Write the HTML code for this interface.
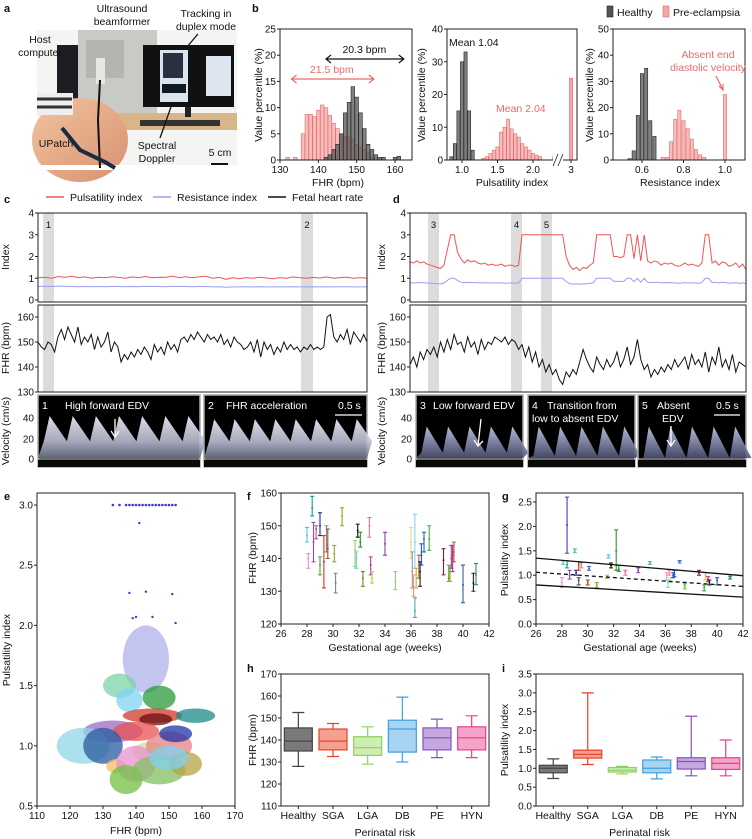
<!DOCTYPE html>
<html><head><meta charset="utf-8"><style>
html,body{margin:0;padding:0;background:#fff}
svg{display:block;font-family:"Liberation Sans",Arial,sans-serif}
</style></head><body>
<svg id="fig" width="752" height="839" viewBox="0 0 752 839" xmlns="http://www.w3.org/2000/svg">
<defs>
<linearGradient id="dopW" x1="0" y1="0" x2="0" y2="1"><stop offset="0" stop-color="#f4f4ff"/><stop offset="0.6" stop-color="#b8bcd0"/><stop offset="1" stop-color="#6a7088"/></linearGradient>
<linearGradient id="dopB" x1="0" y1="0" x2="0" y2="1"><stop offset="0" stop-color="#c8ccf0"/><stop offset="1" stop-color="#4a5070"/></linearGradient>
<linearGradient id="skin" x1="0" y1="0" x2="1" y2="1"><stop offset="0" stop-color="#f2c4a0"/><stop offset="1" stop-color="#d89070"/></linearGradient>
</defs>
<g>
<rect x="37" y="30" width="200" height="140" fill="#f4f4f2"/>
<rect x="57" y="45" width="24" height="80" fill="#1e1e22"/>
<rect x="78" y="30" width="79" height="93" fill="#c9c9c6"/>
<rect x="86" y="40" width="38" height="38" fill="#b4b4b0"/>
<rect x="96" y="58" width="9" height="26" fill="#e6e6e4"/>
<rect x="78" y="113" width="159" height="17" fill="#d9b68a"/>
<rect x="143" y="45" width="91" height="62" fill="#111"/>
<rect x="160" y="50" width="28" height="52" fill="#d8e4ee"/>
<rect x="163" y="53" width="20" height="25" fill="#2a3040"/>
<rect x="162" y="84" width="24" height="9" fill="#101820"/>
<rect x="206" y="56" width="25" height="40" fill="#dde6f0"/>
<rect x="185" y="107" width="6" height="10" fill="#222"/>
<rect x="140" y="120" width="80" height="6" fill="#333"/>
<ellipse cx="80" cy="140" rx="48" ry="42" fill="url(#skin)"/>
<rect x="37" y="93" width="36" height="22" fill="#eee"/>
<line x1="37" y1="99" x2="72" y2="99" stroke="#333" stroke-width="3"/>
<line x1="37" y1="107" x2="72" y2="107" stroke="#333" stroke-width="3"/>
<rect x="37" y="165" width="200" height="5" fill="#fff"/>
<path d="M100 80 L98 120 L100 168" stroke="#111" stroke-width="2" fill="none"/>
<path d="M62 128 L80 150 L105 162 L115 168" stroke="#1a2a40" stroke-width="4" fill="none"/>
</g>
</svg>
<script>
const NS='http://www.w3.org/2000/svg';
const svg=document.getElementById('fig');
function mk(tag,attrs,parent){const e=document.createElementNS(NS,tag);for(const k in attrs)e.setAttribute(k,attrs[k]);(parent||svg).appendChild(e);return e;}
function txt(s,x,y,opt,parent){const t=mk('text',Object.assign({x:x,y:y,'font-size':10,fill:'#111'},opt||{}),parent);t.textContent=s;return t;}
function lin(d0,d1,r0,r1){return v=>r0+(v-d0)*(r1-r0)/(d1-d0);}
function grp(name){const g=mk('g',{});return g;}
function frame(g,x0,y0,x1,y1){const r=mk('rect',{x:x0,y:y0,width:x1-x0,height:y1-y0,fill:'none',stroke:'#222','stroke-width':1},g);

}
function yAxis(g,sc,vals,labels,x){vals.forEach((v,i)=>{const y=sc(v);mk('line',{x1:x-3,x2:x,y1:y,y2:y,stroke:'#222'},g);const t=txt(labels[i],x-4,y+3.5,{'text-anchor':'end'},g);

});}
function xAxis(g,sc,vals,labels,y){vals.forEach((v,i)=>{const x=sc(v);mk('line',{x1:x,x2:x,y1:y,y2:y+3,stroke:'#222'},g);const t=txt(labels[i],x,y+13,{'text-anchor':'middle'},g);

});}
function title(g,s,x,y,rot,name){const t=txt(s,x,y,{'text-anchor':'middle','font-size':10.5,transform:rot?`rotate(-90 ${x} ${y})`:''},g);

return t;}
function letter(s,x,y){const t=txt(s,x,y,{'font-weight':'bold','font-size':11});

}

/* ---------- DATA ---------- */
const fhrBinsH=[142,143,144,145,146,147,148,149,150,151,152,153,154,155,156,157,160,161];
const fhrValsH=[0.5,1,2,3,5,9,11,14,12,9,6,3,2,1,0.5,0.5,0.5,0.7];
const fhrBinsP=[132,134,136,137,138,139,140,141,142,143,144,145,146,147,148,149,150,151,152,153,154];
const fhrValsP=[0.5,0.5,5,8.7,8.7,8.3,9.5,10.5,10,8.5,7,6,5,4.5,4.5,4,3,2.5,2,1.5,0.5];
const piBinsH=[0.85,0.9,0.95,1.0,1.05,1.1,1.15];
const piValsH=[1,5,15,30,33,15,3];
const piBinsP=[1.3,1.35,1.4,1.45,1.5,1.55,1.6,1.65,1.7,1.75,1.8,1.85,1.9,1.95,2.0,2.05,2.1,2.3];
const piValsP=[0.5,1,2,3,4,8.5,10,12.5,9.5,8,7,5,4,3,2,1.5,1,1];
const piAbsentVal=25;
const riBinsH=[0.54,0.56,0.58,0.60,0.62,0.64,0.66];
const riValsH=[0.5,3.5,17,33,35,15,9];
const riBinsP=[0.70,0.72,0.74,0.76,0.78,0.80,0.82,0.84,0.86,0.88,0.90,1.0];
const riValsP=[1,1,7,15.5,19,15,12,8,4,2,1,25];
const cPI=[1.02,1.05,1.0,1.08,1.04,1.1,1.03,1.06,1.0,1.05,1.02,1.07,1.04,1.0,1.06,1.03,1.08,1.02,1.05,1.04,1.1,1.03,1.07,1.02,1.06,1.1,1.0,1.04,0.95,1.02,0.98,1.03,1.0,1.05,1.01,0.98,1.03,1.0,1.06,1.02,1.0,1.04,1.01,1.06,1.0,1.03,1.05,1.0,1.03,1.0];
const cRI=[0.62,0.63,0.62,0.64,0.63,0.62,0.61,0.62,0.61,0.62,0.61,0.62,0.62,0.61,0.62,0.61,0.63,0.62,0.62,0.61,0.63,0.62,0.62,0.61,0.62,0.62,0.6,0.61,0.59,0.6,0.6,0.61,0.6,0.61,0.6,0.6,0.61,0.6,0.61,0.6,0.6,0.61,0.6,0.61,0.6,0.61,0.61,0.6,0.6,0.6];
const cFHR=[150,148,147,150,149,146,152,155,151,156,153,150,156,149,152,150,153,147,152,148,150,154,146,150,148,142,145,143,146,144,147,145,148,146,143,149,146,148,145,150,147,149,146,151,152,150,153,151,154,152,150,153,151,152,150,153,149,151,148,152,150,149,147,148,150,146,151,144,150,147,149,145,148,146,150,147,149,147,148,146,148,147,149,147,148,147,148,160,161,152,150,153,151,155,149,154,152,150,153,150];
const dPI=[1.75,1.7,1.8,1.7,1.75,1.65,1.6,1.55,1.5,1.45,1.6,2.3,3,3,2.2,1.9,1.7,1.85,1.75,1.8,1.7,1.65,1.7,1.6,1.65,1.6,1.6,1.65,1.55,1.6,1.6,1.55,1.6,3,3,3,3,3,3,3,3,3,3,3,3,3,2.0,1.6,1.4,1.5,1.35,1.5,1.45,1.6,1.7,3,3,3,3,3,2.0,2.0,1.95,2.0,3,3,1.9,3,1.8,3,1.8,1.7,1.8,1.75,1.6,1.7,1.65,1.7,1.6,1.55,1.6,1.7,1.6,1.65,1.6,1.55,1.7,3,3,1.7,1.8,1.6,1.75,1.7,1.55,1.6,1.7,1.5,1.65,1.4];
const dRI=[0.8,0.78,0.8,0.8,0.79,0.78,0.77,0.76,0.75,0.74,0.78,0.9,1,1,0.9,0.82,0.8,0.81,0.8,0.8,0.79,0.78,0.8,0.78,0.79,0.78,0.78,0.79,0.77,0.78,0.78,0.77,0.78,1,1,1,1,1,1,1,1,1,1,1,1,1,0.85,0.76,0.73,0.75,0.72,0.75,0.74,0.77,0.79,1,1,1,1,1,0.86,0.86,0.85,0.86,1,1,0.84,1,0.82,1,0.82,0.8,0.82,0.81,0.78,0.8,0.79,0.8,0.78,0.77,0.78,0.8,0.78,0.79,0.78,0.77,0.8,1,1,0.8,0.82,0.78,0.81,0.8,0.77,0.78,0.8,0.76,0.79,0.75];
const dFHR=[141,144,140,146,143,147,145,148,144,150,146,151,147,153,149,150,146,152,148,150,145,151,147,150,149,152,151,150,152,149,151,150,147,149,144,148,142,146,140,143,138,141,137,139,135,133,138,136,139,137,142,147,143,140,138,144,141,139,143,140,142,146,140,143,148,141,144,151,143,139,141,136,139,137,140,138,141,139,143,140,142,144,139,145,141,143,140,146,138,144,141,148,140,143,139,145,138,142,141,140];
const eFhr=[143,135,138,147,145,146,158,133,140,124,130,144,150,152,134,140,137,147,155,150];
const ePi=[1.72,1.5,1.38,1.4,1.25,1.22,1.25,1.12,1.12,1.0,1.0,0.95,1.0,1.1,0.83,0.85,0.72,0.8,0.85,0.9];
const eSdF=[7,5,4,5,9,5,6,9,7,8,6,5,7,5,3,6,5,8,5,6];
const eSdP=[0.28,0.1,0.1,0.1,0.06,0.05,0.06,0.09,0.08,0.15,0.15,0.08,0.12,0.07,0.06,0.15,0.12,0.12,0.1,0.1];
const eCol=['#3a3ad0','#7dd3a8','#7fd3f0','#2a9a3a','#d03a2b','#6b1010','#1a8a8a','#9b69c6','#e85050','#8fd6e6','#2a5aa0','#c8e890','#e88080','#2233aa','#f0c060','#e890d0','#70c040','#80c060','#b8a040','#80d0f0'];
const eTopFhr=[133,135,137,138,139,140,141,142,143,144,145,146,147,148,149,150,151,152];
const eOutFhr=[141,138,143,151,140,145,152,139];
const eOutPi=[2.85,2.27,2.28,2.26,2.07,2.07,2.02,2.06];
const fGa=[28.0,28.1,28.4,28.5,28.7,29.0,29.0,29.3,29.5,29.6,30.1,30.2,30.7,31.7,31.8,31.9,32.1,32.3,32.8,32.9,33.0,34.0,34.8,36.0,36.1,36.2,36.3,36.3,36.4,36.6,36.7,36.8,37.0,37.4,38.5,38.9,39.0,39.1,39.2,39.3,40.0,40.8,41.0];
const fMean=[147,140,155.5,145,149,150,138,139,144,143,141.5,132.5,153,142.5,140,148.5,145,134,150,138,134,144.5,133,145,136,131.5,145,124,135,138,136,141,146,146,139.5,134,136,140,141,142,132,132.5,135];
const fLo=[145,137,153,139,146,147,135,131,142,140,139,129.5,150,137.5,137,146.5,143.5,131.5,146.5,135,132.5,141,130.5,140,131,128.5,137,122,131,134,131.5,138,142,142.5,135,133,133,137,136,139,126.5,130,132];
const fHi=[149.5,141.5,159,151,150,154,140.5,147,150,149,144,135.5,155.5,145.5,142,150.5,148,136,152.5,140.5,136,148,136,149.5,142,135,153.5,128,137,141,139,144.5,148,150,143,138,138,144,144,145,138,135.5,138.5];
const fCol=['#5bc8d8','#e890d0','#1a9a8a','#8050c0','#d040a0','#2030a0','#50a040','#e03020','#888','#8a5a30','#a0a030','#7080b0','#a0a020','#90d070','#70d0e0','#111','#2a8a2a','#808020','#f07090','#a040a0','#e0c040','#8040b0','#90d070','#e0e080','#999','#f09080','#80d8f0','#40b0c0','#c0b040','#a07040','#222','#3050c0','#2060d0','#40b040','#802030','#50b030','#a0a020','#9040c0','#e02080','#a06030','#3060a0','#222','#309050'];
const gGa=[28.0,28.1,28.4,28.4,28.6,29.0,29.1,29.3,29.3,29.5,30.0,30.1,30.7,31.5,31.6,31.8,32.2,32.4,32.9,33.9,34.8,36.1,36.2,36.3,36.4,36.6,36.7,37.1,37.5,38.6,39.0,39.1,39.3,39.4,40.0,41.0];
const gMean=[0.85,1.27,2.03,1.22,1.0,1.5,1.05,0.9,1.22,1.2,0.85,1.14,0.8,0.97,1.38,1.2,1.5,1.12,1.07,1.1,1.25,1.0,0.85,1.05,0.9,1.0,1.02,1.28,0.77,1.05,0.75,1.0,0.92,0.85,0.9,0.95];
const gLo=[0.75,1.22,1.45,1.15,0.92,1.46,1.0,0.8,1.1,1.15,0.8,1.1,0.75,0.93,1.35,1.15,1.1,1.08,1.0,1.05,1.22,0.9,0.75,1.0,0.85,0.95,0.97,1.25,0.72,1.0,0.68,0.9,0.87,0.8,0.8,0.92];
const gHi=[0.95,1.3,2.6,1.3,1.1,1.54,1.1,0.95,1.28,1.25,0.9,1.18,0.85,1.0,1.42,1.25,1.93,1.2,1.1,1.15,1.28,1.05,0.9,1.1,0.95,1.05,1.1,1.3,0.82,1.1,0.8,1.05,0.97,0.9,0.95,0.98];
const gCol=['#e890d0','#5bc8d8','#3a3ad0','#1a9a8a','#8050c0','#50c890','#2030a0','#555','#e03020','#999','#8a5a30','#5060d0','#a0a030','#90d070','#70c0e0','#111','#2a9a2a','#2a8a2a','#f07090','#8040b0','#60c080','#e890d0','#80d8f0','#f09080','#e0e080','#3050c0','#2060d0','#3070d0','#60c040','#802030','#40b040','#e0c040','#e02080','#222','#3060a0','#309050'];
const gUpper=[1.35,0.99];const gMid=[1.06,0.77];const gLower=[0.8,0.55];
const cats=['Healthy','SGA','LGA','DB','PE','HYN'];
const boxCol=['#444','#e8402a','#8fd060','#3fa0e0','#8a50c0','#e8408a'];
const boxFill=['#7a7a7a','#f6a090','#cdeeb0','#a8d4f4','#c4a8e0','#f4a4c8'];
const hMin=[128,132.5,129,130,132,132];const hQ1=[135,135.5,133,134.5,135.5,135.5];const hMed=[139.5,139.5,136.5,145,141,141];const hQ3=[145.5,145,141.5,149,145.5,146];const hMax=[152.5,147.5,146,159.5,149.5,151];
const iMin=[0.73,1.1,0.85,0.72,0.8,0.8];const iQ1=[0.88,1.27,0.9,0.88,0.98,0.97];const iMed=[1.0,1.37,0.95,1.0,1.18,1.13];const iQ3=[1.08,1.48,1.02,1.22,1.28,1.28];const iMax=[1.25,3.0,1.05,1.3,2.38,1.75];

/* ---------- labels ---------- */
letter('a',4,12);letter('b',252,12);letter('c',4,203);letter('d',393,203);letter('e',4,500);letter('f',247,500);letter('g',502,500);letter('h',247,672);letter('i',502,672);
const ga=grp('panel-a-labels');
[['Host',40,43],['computer',40,56],['Ultrasound',122,12],['beamformer',122,25],['Tracking in',206,17],['duplex mode',206,30],['UPatch',56,147],['Spectral',157,149],['Doppler',157,162],['5 cm',220,156]].forEach(a=>{const t=txt(a[0],a[1],a[2],{'text-anchor':'middle','font-size':10.5},ga);

});
mk('line',{x1:211,x2:228,y1:164,y2:164,stroke:'#111','stroke-width':2},ga);
mk('path',{d:'M198 34 L186 48',stroke:'#111','stroke-width':1.3,fill:'none'},ga);
mk('path',{d:'M160 138 L172 104',stroke:'#111','stroke-width':1.3,fill:'none'},ga);

/* ---------- panel b ---------- */
function bars(g,sx,sy,bins,vals,w,fill,stroke,name){bins.forEach((b,i)=>{const x=sx(b);const r=mk('rect',{x:x-w/2,y:sy(vals[i]),width:w,height:sy(0)-sy(vals[i]),fill:fill,stroke:stroke,'stroke-width':0.6,'fill-opacity':0.75},g);

});}
const b1=grp('histogram-fhr');
const b1x=lin(130,160,280,395),b1y=lin(0,25,160,29);
bars(b1,b1x,b1y,fhrBinsP,fhrValsP,3.6,'#f5a6a6','#e06a6a','bar-pre-eclampsia');
bars(b1,b1x,b1y,fhrBinsH,fhrValsH,3.6,'#555','#222','bar-healthy');
frame(b1,280,29,412,160);
yAxis(b1,b1y,[0,5,10,15,20,25],['0','5','10','15','20','25'],280);
xAxis(b1,b1x,[130,140,150,160],['130','140','150','160'],160);
title(b1,'FHR (bpm)',338,186,false,'x-axis-title');
title(b1,'Value percentile (%)',262,95,true,'y-axis-title');
mk('path',{d:`M${b1x(142)} 59 L${b1x(162.3)} 59 M${b1x(142)+5} 55 L${b1x(142)} 59 L${b1x(142)+5} 63 M${b1x(162.3)-5} 55 L${b1x(162.3)} 59 L${b1x(162.3)-5} 63`,stroke:'#111','stroke-width':1.2,fill:'none'},b1);
txt('20.3 bpm',b1x(152),53,{'text-anchor':'middle','font-size':10.5},b1);
mk('path',{d:`M${b1x(133)} 79 L${b1x(154.5)} 79 M${b1x(133)+5} 75 L${b1x(133)} 79 L${b1x(133)+5} 83 M${b1x(154.5)-5} 75 L${b1x(154.5)} 79 L${b1x(154.5)-5} 83`,stroke:'#e86a6a','stroke-width':1.2,fill:'none'},b1);
txt('21.5 bpm',b1x(143.5),73,{'text-anchor':'middle','font-size':10.5,fill:'#e86a6a'},b1);

const b2=grp('histogram-pulsatility');
const b2x=lin(1,2,462,533),b2y=lin(0,40,160,29);
bars(b2,b2x,b2y,piBinsH,piValsH,3.2,'#555','#222','bar-healthy');
bars(b2,b2x,b2y,piBinsP,piValsP,3.2,'#f5a6a6','#e06a6a','bar-pre-eclampsia');
const ab=mk('rect',{x:569.5,y:b2y(piAbsentVal),width:3.2,height:b2y(0)-b2y(piAbsentVal),fill:'#f5a6a6',stroke:'#e06a6a','stroke-width':0.6},b2);


frame(b2,447,29,577,160);
yAxis(b2,b2y,[0,10,20,30,40],['0','10','20','30','40'],447);
xAxis(b2,b2x,[1,1.5,2],['1.0','1.5','2.0'],160);
mk('line',{x1:571,x2:571,y1:160,y2:163,stroke:'#222'},b2);txt('3',571,173,{'text-anchor':'middle'},b2);
mk('rect',{x:553,y:155,width:10,height:10,fill:'#fff'},b2);
mk('path',{d:'M553 166 L558 154 M558 166 L563 154',stroke:'#222','stroke-width':0.8},b2);
title(b2,'Pulsatility index',512,186,false,'x-axis-title');
title(b2,'Value percentile (%)',425,95,true,'y-axis-title');
txt('Mean 1.04',449,46,{'font-size':10.5},b2);
txt('Mean 2.04',496,112,{'font-size':10.5,fill:'#e86a6a'},b2);

const b3=grp('histogram-resistance');
const b3x=lin(0.6,1.0,642,725),b3y=lin(0,50,160,29);
bars(b3,b3x,b3y,riBinsH,riValsH,3.2,'#555','#222','bar-healthy');
bars(b3,b3x,b3y,riBinsP,riValsP,3.2,'#f5a6a6','#e06a6a','bar-pre-eclampsia');
frame(b3,613,29,745,160);
yAxis(b3,b3y,[0,10,20,30,40,50],['0','10','20','30','40','50'],613);
xAxis(b3,b3x,[0.6,0.8,1.0],['0.6','0.8','1.0'],160);
title(b3,'Resistance index',680,186,false,'x-axis-title');
title(b3,'Value percentile (%)',593,95,true,'y-axis-title');
txt('Absent end',708,58,{'text-anchor':'middle','font-size':10.5,fill:'#e86a6a'},b3);
txt('diastolic velocity',708,71,{'text-anchor':'middle','font-size':10.5,fill:'#e86a6a'},b3);
mk('path',{d:'M716 76 L723 90 M719 86 L723 90 L723 84',stroke:'#e86a6a','stroke-width':1.2,fill:'none'},b3);
const lg=grp('legend-b');
mk('rect',{x:607,y:6,width:6,height:11,fill:'#555',stroke:'#222','stroke-width':0.6},lg);
txt('Healthy',617,16,{'font-size':10.5},lg);
mk('rect',{x:663,y:6,width:6,height:11,fill:'#f5a6a6',stroke:'#e06a6a','stroke-width':0.6},lg);
txt('Pre-eclampsia',673,16,{'font-size':10.5},lg);

/* ---------- panels c / d ---------- */
function series(g,arr,x0,x1,sy,color,w,name){const n=arr.length;const pts=arr.map((v,i)=>(x0+i*(x1-x0)/(n-1)).toFixed(1)+','+sy(v).toFixed(1)).join(' ');const p=mk('polyline',{points:pts,fill:'none',stroke:color,'stroke-width':w},g);

}
function timePanel(name,x0,x1,bands,pi,ri,fhr,tickX){
 const g=grp(name);
 const iy=lin(0,4,300,213),fy=lin(130,160,392,317);
 bands.forEach(b=>{const r=mk('rect',{x:b[0],y:213,width:b[1]-b[0],height:179,fill:'#dcdcdc'},g);
 
 
 txt(b[2],(b[0]+b[1])/2,228,{'text-anchor':'middle','font-size':9.5},g);});
 mk('rect',{x:x0,y:302,width:x1-x0,height:3,fill:'#fff'},g);
 series(g,ri,x0,x1,iy,'#9d9df0',1,'resistance-index-line');
 series(g,pi,x0,x1,iy,'#ee5555',1,'pulsatility-index-line');
 series(g,fhr,x0,x1,fy,'#111',1,'fetal-heart-rate-line');
 frame(g,x0,213,x1,302);frame(g,x0,305,x1,392);
 yAxis(g,iy,[0,1,2,3,4],['0','1','2','3','4'],x0);
 yAxis(g,fy,[130,140,150,160],['130','140','150','160'],x0);
 title(g,'Index',tickX,257,true,'y-axis-title-index');
 title(g,'FHR (bpm)',tickX,348,true,'y-axis-title-fhr');
 title(g,'Velocity (cm/s)',tickX,431,true,'y-axis-title-velocity');
 return g;}
const gc=timePanel('panel-c-timeseries',38,367,[[43,54,'1'],[301,313,'2']],cPI,cRI,cFHR,9);
const gd=timePanel('panel-d-timeseries',410,746,[[428,439,'3'],[511,522,'4'],[541,552,'5']],dPI,dRI,dFHR,385);
const lc=grp('legend-c');
[['Pulsatility index','#ee5555',46],['Resistance index','#9d9df0',153],['Fetal heart rate','#111',268]].forEach(l=>{mk('line',{x1:l[2],x2:l[2]+18,y1:197,y2:197,stroke:l[1],'stroke-width':1.5},lc);const t=txt(l[0],l[2]+24,201,{'font-size':10.5},lc);

});

function doppler(name,x0,x1,peaks,diast,fill,labels,lines){
 const g=grp(name);
 mk('rect',{x:x0,y:395,width:x1-x0,height:72,fill:'#000',stroke:'#aaa','stroke-width':1.5},g);
 const base=458,vy=lin(0,40,458,416);
 const n=peaks.length;const step=(x1-x0)/n;
 let d='M'+x0+' '+base;
 for(let k=0;k<n;k++){const px=x0+step*(k+0.5);d+=` L${(px-step*0.25).toFixed(1)} ${vy(diast).toFixed(1)} L${px.toFixed(1)} ${vy(peaks[k]).toFixed(1)} L${(px+step*0.75).toFixed(1)} ${vy(diast).toFixed(1)}`;}
 d+=` L${x1} ${base} Z`;
 mk('path',{d:d,fill:fill,opacity:0.9},g);
 mk('line',{x1:x0,x2:x1,y1:base+1,y2:base+1,stroke:'#ddd','stroke-width':1},g);
 mk('rect',{x:x0,y:base+2,width:x1-x0,height:7,fill:'#0a0a0a'},g);
 labels.forEach(l=>{txt(l[0],l[1],l[2],{'font-size':10.5,fill:'#fff'},g);});
 (lines||[]).forEach(l=>mk('path',{d:l,stroke:'#fff','stroke-width':1.3,fill:'none'},g));
 return g;}
doppler('spectrogram-1',38,200,[40,40,40,40,40,40,40],16,'url(#dopW)',[['1',42,409],['High forward EDV',65,409]],['M115 419 L115 437 M111 431 L115 437 L119 431']);
doppler('spectrogram-2',204,367,[37,37,37,37,37,37,37,37],16,'url(#dopW)',[['2',208,409],['FHR acceleration',226,409],['0.5 s',338,409]],['M335 415 L362 415']);
doppler('spectrogram-3',416,523,[30,30,30,30,30],5,'url(#dopB)',[['3',420,409],['Low forward EDV',433,409]],['M481 419 L478 446 M474 440 L478 446 L483 441']);
doppler('spectrogram-4',528,635,[30,30,30,30,30],2,'url(#dopB)',[['4',532,409],['Transition from',547,409],['low to absent EDV',532,422]]);
doppler('spectrogram-5',638,746,[30,30,30,30,30],0,'url(#dopB)',[['5',642,409],['Absent',657,409],['EDV',662,422],['0.5 s',716,409]],['M671 426 L671 446 M667 440 L671 446 L675 440','M714 415 L740 415']);
[['40',418],['20',439],['0',459]].forEach(v=>{txt(v[0],34,v[1]+3.5,{'text-anchor':'end'});txt(v[0],412,v[1]+3.5,{'text-anchor':'end'});});

/* ---------- panel e ---------- */
const ge=grp('panel-e-scatter');
const ex=lin(110,170,37,235),ey=lin(0.5,3.0,806,505);
eFhr.forEach((f,i)=>{const c=mk('ellipse',{cx:ex(f),cy:ey(ePi[i]),rx:ex(f+eSdF[i])-ex(f),ry:ey(ePi[i])-ey(ePi[i]+eSdP[i]),fill:eCol[i],opacity:i===0?0.3:0.75},ge);

});
eTopFhr.forEach(f=>{const c=mk('circle',{cx:ex(f),cy:ey(3.0),r:1.3,fill:'#3a3ad0'},ge);

});
eOutFhr.forEach((f,i)=>{const c=mk('circle',{cx:ex(f),cy:ey(eOutPi[i]),r:1.2,fill:'#3a3ad0'},ge);

});
frame(ge,37,493,235,806);
yAxis(ge,ey,[0.5,1,1.5,2,2.5,3],['0.5','1.0','1.5','2.0','2.5','3.0'],37);
xAxis(ge,ex,[110,120,130,140,150,160,170],['110','120','130','140','150','160','170'],806);
title(ge,'FHR (bpm)',136,834,false,'x-axis-title');
title(ge,'Pulsatility index',10,650,true,'y-axis-title');

/* ---------- panels f / g ---------- */
function errPanel(name,sx,sy,gaArr,m,lo,hi,col){const g=grp(name);gaArr.forEach((a,i)=>{const x=sx(a);const p=mk('path',{d:`M${x} ${sy(lo[i])} L${x} ${sy(hi[i])} M${x-2} ${sy(lo[i])} L${x+2} ${sy(lo[i])} M${x-2} ${sy(hi[i])} L${x+2} ${sy(hi[i])}`,stroke:col[i],'stroke-width':1.1,fill:'none'},g);


mk('circle',{cx:x,cy:sy(m[i]),r:1,fill:col[i]},g);});return g;}
const fx=lin(26,42,281,489),fy=lin(120,160,624,493);
const gf=errPanel('panel-f-errorbars',fx,fy,fGa,fMean,fLo,fHi,fCol);
frame(gf,281,493,489,624);
yAxis(gf,fy,[120,130,140,150,160],['120','130','140','150','160'],281);
xAxis(gf,fx,[26,28,30,32,34,36,38,40,42],['26','28','30','32','34','36','38','40','42'],624);
title(gf,'Gestational age (weeks)',385,651,false,'x-axis-title');
title(gf,'FHR (bpm)',256,558,true,'y-axis-title');
const gx=lin(26,42,536,743),gy=lin(0,2.5,624,502);
const gg=errPanel('panel-g-errorbars',gx,gy,gGa,gMean,gLo,gHi,gCol);
[[gUpper,''],[gMid,'4,3'],[gLower,'']].forEach(l=>{const p=mk('line',{x1:gx(26),x2:gx(42),y1:gy(l[0][0]),y2:gy(l[0][1]),stroke:'#111','stroke-width':1.3,'stroke-dasharray':l[1]},gg);

});
frame(gg,536,493,743,624);
yAxis(gg,gy,[0,0.5,1,1.5,2,2.5],['0.0','0.5','1.0','1.5','2.0','2.5'],536);
xAxis(gg,gx,[26,28,30,32,34,36,38,40,42],['26','28','30','32','34','36','38','40','42'],624);
title(gg,'Gestational age (weeks)',640,651,false,'x-axis-title');
title(gg,'Pulsatility index',508,560,true,'y-axis-title');

/* ---------- panels h / i ---------- */
function boxPanel(name,x0,x1,sy,mn,q1,md,q3,mx){const g=grp(name);const step=(x1-x0)/cats.length;
cats.forEach((c,i)=>{const x=x0+step*(i+0.5);const w=14;
const b=mk('rect',{x:x-w,y:sy(q3[i]),width:2*w,height:sy(q1[i])-sy(q3[i]),fill:boxFill[i],stroke:boxCol[i],'stroke-width':1.2},g);


mk('path',{d:`M${x} ${sy(q3[i])} L${x} ${sy(mx[i])} M${x-6} ${sy(mx[i])} L${x+6} ${sy(mx[i])} M${x} ${sy(q1[i])} L${x} ${sy(mn[i])} M${x-6} ${sy(mn[i])} L${x+6} ${sy(mn[i])} M${x-w} ${sy(md[i])} L${x+w} ${sy(md[i])}`,stroke:boxCol[i],'stroke-width':1.2,fill:'none'},g);
mk('line',{x1:x,x2:x,y1:806,y2:809,stroke:'#222'},g);
const t=txt(c,x,819,{'text-anchor':'middle','font-size':10.5},g);

});
frame(g,x0,674,x1,806);title(g,'Perinatal risk',(x0+x1)/2,836,false,'x-axis-title');return g;}
const hy=lin(110,170,806,674);
const gh=boxPanel('panel-h-boxplot',281,489,hy,hMin,hQ1,hMed,hQ3,hMax);
yAxis(gh,hy,[110,120,130,140,150,160,170],['110','120','130','140','150','160','170'],281);
title(gh,'FHR (bpm)',256,740,true,'y-axis-title');
const iy2=lin(0,3.5,806,674);
const gi=boxPanel('panel-i-boxplot',536,743,iy2,iMin,iQ1,iMed,iQ3,iMax);
yAxis(gi,iy2,[0,0.5,1,1.5,2,2.5,3,3.5],['0.0','0.5','1.0','1.5','2.0','2.5','3.0','3.5'],536);
title(gi,'Pulsatility index',508,740,true,'y-axis-title');
</script>
</body></html>
